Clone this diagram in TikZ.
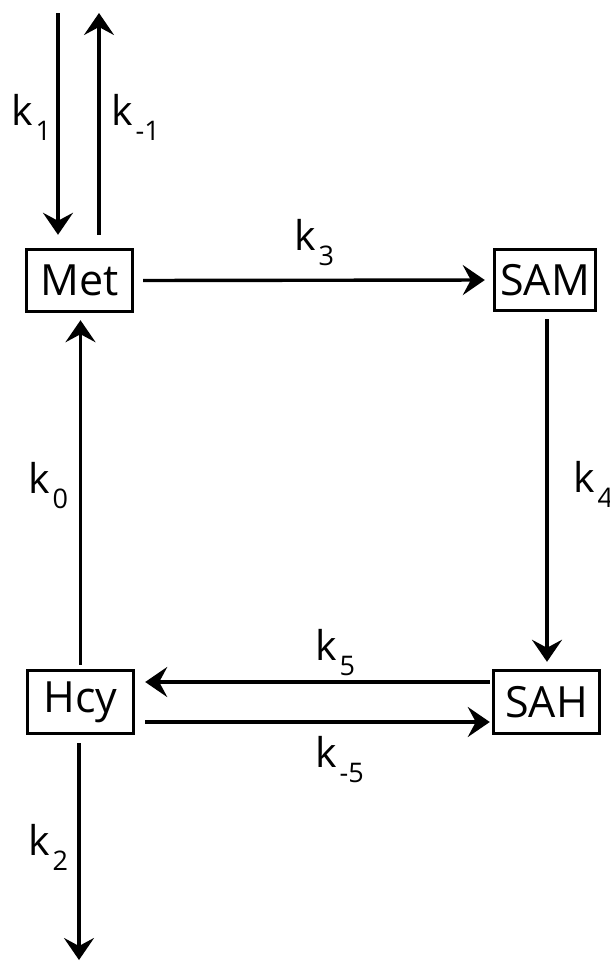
\documentclass[tikz,border=0pt]{standalone}
\usepackage{fontspec}
\setmainfont{Open Sans}
\usetikzlibrary{arrows.meta}

% rate constant label: k with a lowered index
\newcommand\rate[1]{k\hspace{3pt}\raisebox{-15pt}{\fontsize{27}{27}\selectfont #1}}

\begin{document}
\begin{tikzpicture}[x=1pt,y=1pt,
  species/.style={draw, line width=3.4pt, inner sep=0pt, font=\fontsize{43}{43}\selectfont},
  arr/.style={line width=3.4pt, -{Stealth[length=22pt,width=30pt,inset=8pt]}},
  ratelabel/.style={anchor=base west, inner sep=0pt, font=\fontsize{41}{41}\selectfont}]
\useasboundingbox (0,0) rectangle (610,-962);

% metabolite boxes
\node[species, minimum width=106pt, minimum height=62pt] (met) at (79.5,-280.5) {Met};
\node[species, minimum width=101pt, minimum height=61pt] (sam) at (545,-280) {SAM};
\node[species, minimum width=106pt, minimum height=63pt] (hcy) at (80.5,-702) {Hcy};
\node[species, minimum width=106pt, minimum height=63pt] (sah) at (546.5,-702) {SAH};

% free ends of the exchange arrows
\coordinate (uptakesrc) at (58,-13);
\coordinate (effluxend) at (99,-13);
\coordinate (lossend) at (79,-960);

% uptake and efflux of Met
\draw[arr] (uptakesrc) -- ([yshift=13pt]uptakesrc |- met.north);
\draw[arr] ([yshift=13pt]effluxend |- met.north) -- (effluxend);

% cycle
\draw[arr, shorten <=9pt, shorten >=8pt] (met.east) -- (sam.west);
\draw[arr, shorten <=7pt, shorten >=7pt] ([xshift=2pt]sam.south) -- ([xshift=2pt]sam.south |- sah.north);
\draw[arr, shorten <=2pt, shorten >=10pt] ([yshift=20pt]sah.west) -- ([yshift=20pt]sah.west -| hcy.east);
\draw[arr, shorten <=10pt, shorten >=2pt] ([yshift=-20pt]hcy.east) -- ([yshift=-20pt]hcy.east -| sah.west);
\draw[arr, shorten <=4pt, shorten >=7pt] (hcy.north) -- (hcy.north |- met.south);

% removal of Hcy
\draw[arr] ([yshift=-8pt]lossend |- hcy.south) -- (lossend);

% rate constants
\node[ratelabel] (lk1) at (11,-125) {\rate{1}};
\node[ratelabel] (lkm1) at (111,-125) {\rate{-1}};
\node[ratelabel] (lk3) at (294,-250) {\rate{3}};
\node[ratelabel] (lk0) at (28,-493) {\rate{0}};
\node[ratelabel] (lk4) at (573,-492) {\rate{4}};
\node[ratelabel] (lk5) at (315,-660) {\rate{5}};
\node[ratelabel] (lkm5) at (315,-767) {\rate{-5}};
\node[ratelabel] (lk2) at (28,-855) {\rate{2}};
\end{tikzpicture}
\end{document}
